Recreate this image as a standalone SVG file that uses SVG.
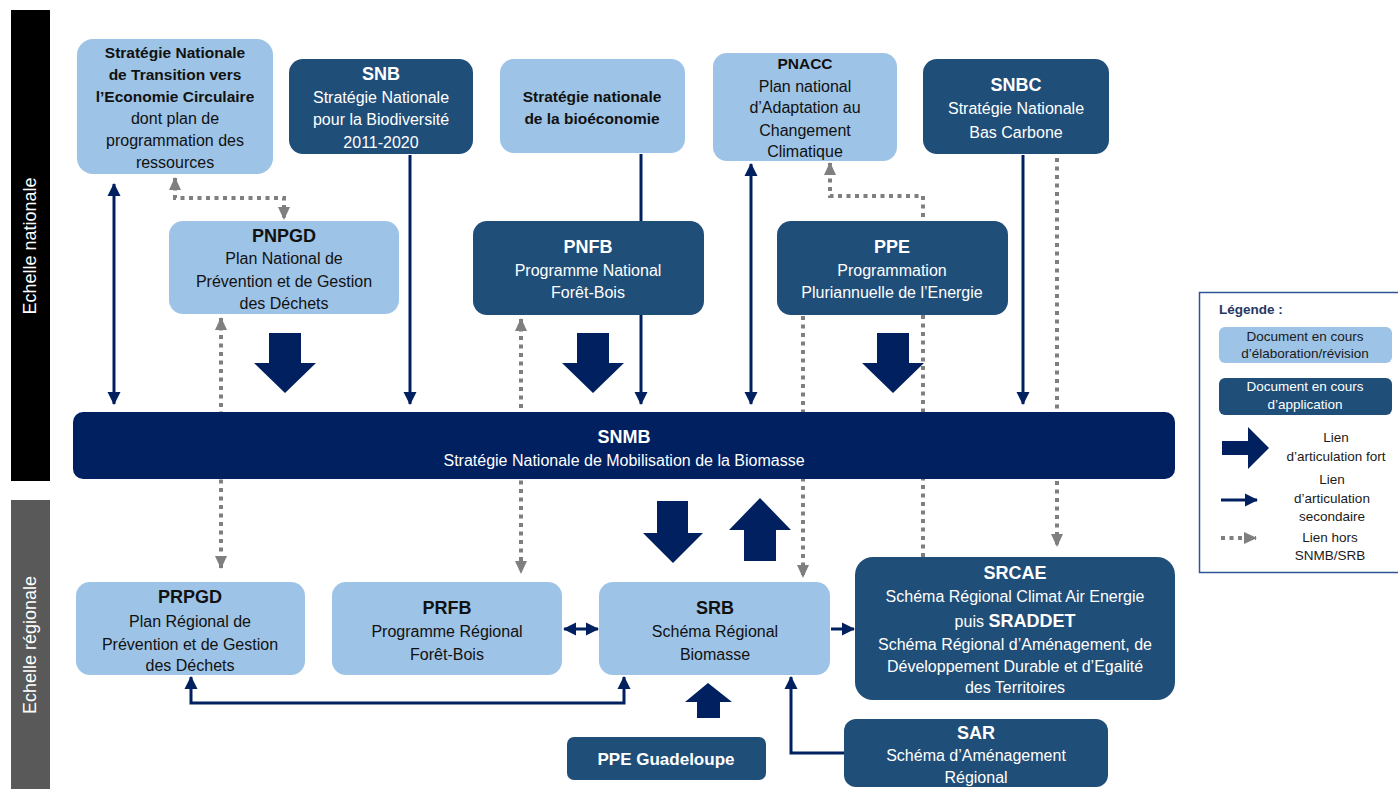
<svg xmlns="http://www.w3.org/2000/svg" width="1398" height="789" viewBox="0 0 1398 789">
<style>
text{font-family:"Liberation Sans",Arial,sans-serif;text-anchor:middle}
.light{fill:#9DC3E6}
.dark{fill:#1F4E79}
.navybox{fill:#002060}
.tl{fill:#111;font-size:16px}
.tlb{fill:#111;font-size:15.5px;font-weight:bold}
.td{fill:#fff;font-size:16px}
.tt{font-size:18px;font-weight:bold}
.sol{stroke:#002060;stroke-width:3;fill:none}
.dot{stroke:#7F7F7F;stroke-width:4;fill:none;stroke-dasharray:4 4.5}
.big{fill:#002060}
.lg{font-size:13.5px;fill:#1a1a1a}
.lgw{font-size:13.5px;fill:#fff}
</style>
<defs>
<marker id="na" markerUnits="userSpaceOnUse" markerWidth="14" markerHeight="14" refX="12" refY="7" orient="auto-start-reverse" viewBox="0 0 14 14"><path d="M0,0.5 L13,7 L0,13.5 z" fill="#002060"/></marker>
<marker id="ga" markerUnits="userSpaceOnUse" markerWidth="14" markerHeight="14" refX="12" refY="7" orient="auto-start-reverse" viewBox="0 0 14 14"><path d="M0,1 L13,7 L0,13 z" fill="#7F7F7F"/></marker>
</defs>

<!-- side bars -->
<g id="scale-nationale">
<rect x="11" y="10" width="39" height="471" fill="#000"/>
<text transform="translate(36,246) rotate(-90)" style="font-size:18px;fill:#fff">Echelle nationale</text>
</g>
<g id="scale-regionale">
<rect x="11" y="500" width="39" height="289" fill="#595959"/>
<text transform="translate(36,645) rotate(-90)" style="font-size:18px;fill:#fff">Echelle régionale</text>
</g>

<!-- connectors (drawn behind nodes) -->
<g id="connectors">
<path class="sol" d="M114,184 V404" marker-start="url(#na)" marker-end="url(#na)"/>
<path class="dot" d="M175,178 V198 H284 V219" marker-start="url(#ga)" marker-end="url(#ga)"/>
<path class="sol" d="M410,155 V404" marker-end="url(#na)"/>
<path class="dot" d="M221,318 V568" marker-start="url(#ga)" marker-end="url(#ga)"/>
<path class="sol" d="M641,154 V404" marker-end="url(#na)"/>
<path class="dot" d="M521,319 V573" marker-start="url(#ga)" marker-end="url(#ga)"/>
<path class="sol" d="M751,164 V404" marker-start="url(#na)" marker-end="url(#na)"/>
<path class="dot" d="M923,557 V196 H830 V163" marker-end="url(#ga)"/>
<path class="dot" d="M803,316 V577" marker-end="url(#ga)"/>
<path class="sol" d="M1023,155 V404" marker-end="url(#na)"/>
<path class="dot" d="M1057,158 V546" marker-end="url(#ga)"/>
<path class="sol" d="M564,629 H598" marker-start="url(#na)" marker-end="url(#na)"/>
<path class="sol" d="M831,629 H854" marker-end="url(#na)"/>
<path class="sol" d="M191,677 V703 H624 V677" marker-start="url(#na)" marker-end="url(#na)"/>
<path class="sol" d="M844,753 H791 V677" marker-end="url(#na)"/>
<path class="big" d="M269,333 H301 V363 H316 L285,393 L254,363 H269 Z"/>
<path class="big" d="M577,333 H609 V363 H624 L593,393 L562,363 H577 Z"/>
<path class="big" d="M877,333 H909 V363 H924 L893,393 L862,363 H877 Z"/>
<path class="big" d="M657,501 H688 V533 H703 L673,563 L643,533 H657 Z"/>
<path class="big" d="M744,561 H776 V530 H791 L760,498 L729,530 H744 Z"/>
<path class="big" d="M697,718 H720 V702 H732 L708,683 L685,702 H697 Z"/>
</g>

<!-- national nodes -->
<g id="sntec">
<rect class="light" x="77" y="39" width="196" height="135" rx="16"/>
<text class="tlb" x="175" y="58">Stratégie Nationale</text>
<text class="tlb" x="175" y="80">de Transition vers</text>
<text class="tlb" x="175" y="102">l’Economie Circulaire</text>
<text class="tl" x="175" y="124">dont plan de</text>
<text class="tl" x="175" y="146">programmation des</text>
<text class="tl" x="175" y="168">ressources</text>
</g>
<g id="snb">
<rect class="dark" x="289" y="59" width="184" height="95" rx="14"/>
<text class="td tt" x="381" y="80">SNB</text>
<text class="td" x="381" y="103">Stratégie Nationale</text>
<text class="td" x="381" y="125">pour la Biodiversité</text>
<text class="td" x="381" y="148">2011-2020</text>
</g>
<g id="bioeconomie">
<rect class="light" x="500" y="59" width="185" height="94" rx="14"/>
<text class="tlb" x="592" y="102">Stratégie nationale</text>
<text class="tlb" x="592" y="124">de la bioéconomie</text>
</g>
<g id="pnacc">
<rect class="light" x="713" y="53" width="184" height="108" rx="14"/>
<text class="tlb" x="805" y="69">PNACC</text>
<text class="tl" x="805" y="92">Plan national</text>
<text class="tl" x="805" y="113">d’Adaptation au</text>
<text class="tl" x="805" y="136">Changement</text>
<text class="tl" x="805" y="157">Climatique</text>
</g>
<g id="snbc">
<rect class="dark" x="923" y="59" width="186" height="95" rx="14"/>
<text class="td tt" x="1016" y="91">SNBC</text>
<text class="td" x="1016" y="114">Stratégie Nationale</text>
<text class="td" x="1016" y="138">Bas Carbone</text>
</g>
<g id="pnpgd">
<rect class="light" x="169" y="221" width="230" height="93" rx="14"/>
<text class="tl tt" x="284" y="242">PNPGD</text>
<text class="tl" x="284" y="264">Plan National de</text>
<text class="tl" x="284" y="287">Prévention et de Gestion</text>
<text class="tl" x="284" y="309">des Déchets</text>
</g>
<g id="pnfb">
<rect class="dark" x="473" y="221" width="231" height="94" rx="14"/>
<text class="td tt" x="588" y="253">PNFB</text>
<text class="td" x="588" y="276">Programme  National</text>
<text class="td" x="588" y="298">Forêt-Bois</text>
</g>
<g id="ppe">
<rect class="dark" x="777" y="221" width="231" height="94" rx="14"/>
<text class="td tt" x="892" y="253">PPE</text>
<text class="td" x="892" y="276">Programmation</text>
<text class="td" x="892" y="298">Pluriannuelle de l’Energie</text>
</g>
<g id="snmb">
<rect class="navybox" x="73" y="412" width="1102" height="67" rx="10"/>
<text class="td tt" x="624" y="443">SNMB</text>
<text class="td" x="624" y="466">Stratégie Nationale de Mobilisation de la Biomasse</text>
</g>

<!-- regional nodes -->
<g id="prpgd">
<rect class="light" x="76" y="582" width="229" height="93" rx="14"/>
<text class="tl tt" x="190" y="603">PRPGD</text>
<text class="tl" x="190" y="627">Plan Régional de</text>
<text class="tl" x="190" y="650">Prévention et de Gestion</text>
<text class="tl" x="190" y="671">des Déchets</text>
</g>
<g id="prfb">
<rect class="light" x="332" y="582" width="230" height="93" rx="14"/>
<text class="tl tt" x="447" y="614">PRFB</text>
<text class="tl" x="447" y="637">Programme  Régional</text>
<text class="tl" x="447" y="660">Forêt-Bois</text>
</g>
<g id="srb">
<rect class="light" x="599" y="582" width="231" height="93" rx="14"/>
<text class="tl tt" x="715" y="614">SRB</text>
<text class="tl" x="715" y="637">Schéma  Régional</text>
<text class="tl" x="715" y="660">Biomasse</text>
</g>
<g id="srcae">
<rect class="dark" x="855" y="557" width="320" height="143" rx="18"/>
<text class="td tt" x="1015" y="579">SRCAE</text>
<text class="td" x="1015" y="602">Schéma  Régional Climat Air Energie</text>
<text class="td" x="1015" y="627">puis <tspan style="font-weight:bold;font-size:18px">SRADDET</tspan></text>
<text class="td" x="1015" y="650">Schéma  Régional d’Aménagement, de</text>
<text class="td" x="1015" y="672">Développement  Durable et d’Egalité</text>
<text class="td" x="1015" y="693">des Territoires</text>
</g>
<g id="sar">
<rect class="dark" x="844" y="719" width="264" height="68" rx="12"/>
<text class="td tt" x="976" y="739">SAR</text>
<text class="td" x="976" y="761">Schéma  d’Aménagement</text>
<text class="td" x="976" y="783">Régional</text>
</g>
<g id="ppe-guadeloupe">
<rect class="dark" x="567" y="737" width="199" height="43" rx="7"/>
<text class="td" x="666" y="765" style="font-size:17px;font-weight:bold">PPE Guadeloupe</text>
</g>

<!-- legend -->
<g id="legend">
<rect x="1199.5" y="292.5" width="210" height="280" fill="#fff" stroke="#2F5597" stroke-width="1.5"/>
<text x="1219" y="314" style="font-size:13.5px;font-weight:bold;fill:#1F3864;text-anchor:start">Légende :</text>
<rect class="light" x="1219" y="327" width="173" height="36" rx="6"/>
<text class="lg" x="1305" y="341">Document  en cours</text>
<text class="lg" x="1305" y="358">d’élaboration/révision</text>
<rect class="dark" x="1219" y="378" width="173" height="37" rx="6"/>
<text class="lgw" x="1305" y="391">Document  en cours</text>
<text class="lgw" x="1305" y="409">d’application</text>
<path class="big" d="M1222,441 H1248 V427 L1269,448 L1248,469 V455 H1222 Z"/>
<text class="lg" x="1336" y="442">Lien</text>
<text class="lg" x="1336" y="461">d’articulation fort</text>
<path class="sol" d="M1221,500 H1257" marker-end="url(#na)"/>
<text class="lg" x="1332" y="484">Lien</text>
<text class="lg" x="1332" y="503">d’articulation</text>
<text class="lg" x="1332" y="521">secondaire</text>
<path class="dot" d="M1221,538 H1256" marker-end="url(#ga)"/>
<text class="lg" x="1330" y="542">Lien hors</text>
<text class="lg" x="1330" y="560">SNMB/SRB</text>
</g>
</svg>
